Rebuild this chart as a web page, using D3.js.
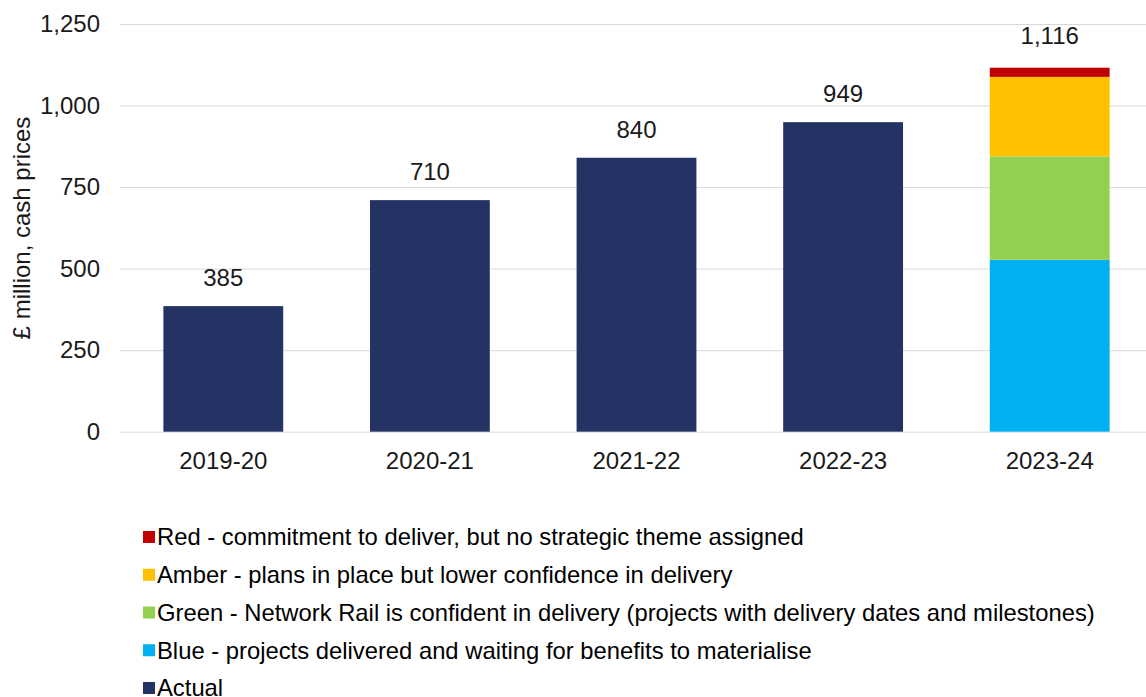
<!DOCTYPE html>
<html>
<head>
<meta charset="utf-8">
<script src="https://cdn.jsdelivr.net/npm/d3@7"></script>
<style>
  body { margin: 0; background: #fff; }
  svg { font-family: "Liberation Sans", Arial, sans-serif; }
</style>
</head>
<body>
<svg id="chart" width="1146" height="697"></svg>
<script>
// Financial years on the x axis
const years = ["2019-20", "2020-21", "2021-22", "2022-23", "2023-24"];
// Actual spend, £ million (no actual for 2023-24)
const actual = [385, 710, 840, 949, 0];
// 2023-24 forecast split by confidence rating, £ million
const blue = [0, 0, 0, 0, 527];
const green = [0, 0, 0, 0, 317];
const amber = [0, 0, 0, 0, 244];
const red = [0, 0, 0, 0, 28];
// Totals shown above each bar
const totals = [385, 710, 840, 949, 1116];
const yTicks = [0, 250, 500, 750, 1000, 1250];

const seriesNames = ["Actual", "Blue", "Green", "Amber", "Red"];
const seriesValues = [actual, blue, green, amber, red];
const seriesColors = ["#253264", "#00B0F0", "#92D050", "#FFC000", "#C00000"];
const legendItems = [
  { key: "Red", label: "Red - commitment to deliver, but no strategic theme assigned" },
  { key: "Amber", label: "Amber - plans in place but lower confidence in delivery" },
  { key: "Green", label: "Green - Network Rail is confident in delivery (projects with delivery dates and milestones)" },
  { key: "Blue", label: "Blue - projects delivered and waiting for benefits to materialise" },
  { key: "Actual", label: "Actual" }
];

const FONT = "Liberation Sans, Arial, sans-serif";
const svg = d3.select("#chart");
const x = d3.scaleBand().domain(years).range([120, 1153]).paddingInner(0.42).paddingOuter(0.21);
const y = d3.scaleLinear().domain([0, 1250]).range([431.7, 24]);
const color = d3.scaleOrdinal().domain(seriesNames).range(seriesColors);

// Gridlines
const grid = d3.axisLeft(y).tickValues(yTicks).tickSize(-(1146 - 120)).tickFormat("");
svg.append("g").attr("transform", "translate(120,0)").call(grid)
  .call(g => g.select(".domain").remove())
  .call(g => g.selectAll("line").attr("stroke", "#d9d9d9").attr("stroke-width", 1));

// Y axis labels
svg.append("g").attr("transform", "translate(120,0)")
  .call(d3.axisLeft(y).tickValues(yTicks).tickSize(0).tickPadding(20).tickFormat(d3.format(",")))
  .call(g => g.select(".domain").remove())
  .call(g => g.selectAll("text").attr("font-size", 24).attr("fill", "#1a1a1a").attr("font-family", FONT));

// Stacked bars
const table = years.map((yr, i) => {
  const row = { year: yr };
  seriesNames.forEach((s, j) => row[s] = seriesValues[j][i]);
  return row;
});
const stack = d3.stack().keys(seriesNames)(table);
svg.append("g").selectAll("g").data(stack).join("g")
  .attr("fill", d => color(d.key))
  .selectAll("rect").data(d => d.filter(p => p[1] > p[0])).join("rect")
  .attr("x", d => x(d.data.year))
  .attr("width", x.bandwidth())
  .attr("y", d => y(d[1]))
  .attr("height", d => y(d[0]) - y(d[1]));

// X axis
svg.append("g").attr("transform", "translate(0,431.7)")
  .call(d3.axisBottom(x).tickSize(0).tickPadding(20))
  .call(g => g.select(".domain").remove())
  .call(g => g.selectAll("text").attr("font-size", 24).attr("fill", "#1a1a1a").attr("font-family", FONT));

// Total labels (the stacked forecast total sits a little higher)
svg.append("g").selectAll("text").data(years).join("text")
  .attr("x", d => x(d) + x.bandwidth() / 2)
  .attr("y", (d, i) => y(totals[i]) - (actual[i] > 0 ? 20 : 24))
  .attr("text-anchor", "middle")
  .attr("font-size", 24).attr("fill", "#1a1a1a")
  .text((d, i) => d3.format(",")(totals[i]));

// Y axis title
svg.append("text")
  .attr("transform", "translate(30,228) rotate(-90)")
  .attr("text-anchor", "middle")
  .attr("font-size", 24).attr("fill", "#1a1a1a")
  .text("£ million, cash prices");

// Legend
const legend = svg.append("g").selectAll("g").data(legendItems).join("g")
  .attr("transform", (d, i) => `translate(143,${537 + i * 37.75})`);
legend.append("rect").attr("x", 0).attr("y", -6).attr("width", 12).attr("height", 12)
  .attr("fill", d => color(d.key));
legend.append("text").attr("x", 14).attr("y", 0).attr("dy", "0.35em")
  .attr("font-size", 23.8).attr("fill", "#000")
  .text(d => d.label);
</script>
</body>
</html>
